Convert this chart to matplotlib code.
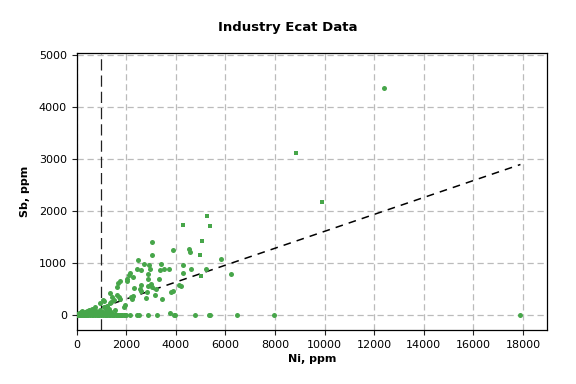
import matplotlib
matplotlib.use("Agg")
import matplotlib.pyplot as plt

# Ni (x) / Sb (y) in ppm
ni_round = [
    12400, 3036, 4528, 4569, 3883, 3036, 5819, 2472, 2714, 2928, 3400, 3345,
    3535, 3710, 2955, 2430, 2590, 4286, 4286, 4610, 5215, 6210, 2164, 2110,
    2030, 2258, 2016, 1667, 1626, 1760, 2875, 2862, 2995, 2888, 3330, 3426,
    2310, 2257, 2580, 2566, 2606, 2820, 2780, 3170, 3183, 3870, 3815, 4125,
    4205, 3036, 2178, 1895, 1962, 2218, 1626, 1694, 1760, 1425, 1492, 1358,
    1398, 1090, 1157, 1358, 1560, 940, 1073, 1210, 1300, 1100, 1250,
    2150, 2445, 2525, 2875, 3251, 3775, 3910, 3960, 4770, 5350, 5390, 6450,
    7955, 17890,
    30, 60, 80, 110, 130, 150, 170, 190, 210, 230, 250, 270, 290, 310, 330,
    350, 370, 390, 410, 430, 450, 470, 490, 510, 530, 550, 570, 590, 610, 630,
    650, 670, 690, 710, 730, 750, 770, 790, 810, 830, 850, 870, 890, 910, 930,
    960, 990, 1020, 1050, 1080, 1110, 1140, 1170, 1200, 1230, 1260, 1290, 1320,
    1350, 1380, 1420, 1460, 1500, 1540, 1580, 1620, 1660, 1700, 1750, 1800,
    1850, 1900, 1950, 2000,
]
sb_round = [
    4371, 1404, 1281, 1217, 1250, 1166, 1089, 1069, 986, 974, 986, 872,
    885, 897, 885, 885, 872, 968, 808, 885, 885, 788, 808, 770,
    692, 744, 660, 628, 551, 654, 795, 705, 596, 570, 705, 314,
    532, 365, 590, 507, 475, 443, 340, 391, 500, 468, 449, 590,
    565, 551, 346, 167, 192, 320, 385, 359, 320, 359, 295, 423,
    263, 276, 167, 231, 103, 230, 294, 170, 120, 150, 90,
    0, 0, 0, 0, 0, 50, 15, 0, 0, 0, 0, 0,
    0, 0,
    0, 20, 5, 40, 0, 10, 60, 25, 0, 80, 15, 35, 0, 50, 10,
    70, 0, 30, 90, 5, 45, 0, 20, 110, 60, 0, 30, 80, 10, 130,
    40, 0, 70, 20, 150, 0, 50, 90, 10, 30, 0, 60, 20, 0, 100,
    40, 0, 20, 60, 0, 30, 0, 80, 10, 0, 40, 0, 20,
    0, 60, 0, 10, 0, 30, 0, 5, 0, 10, 0, 0,
    5, 0, 0, 0,
]
ni_square = [8843, 9891, 5242, 4286, 5375, 5040, 4972, 5000]
sb_square = [3127, 2185, 1915, 1742, 1723, 1435, 1166, 750]

ni_cutoff = 1000
trend_x = [1000, 17900]
trend_y = [150, 2900]

GREEN = "#47a64a"

fig = plt.figure(figsize=(5.76, 3.84), dpi=100)
ax = fig.add_axes([0.133, 0.1406, 0.817, 0.7222])

ax.grid(True, color="#bbbbbb", linestyle=(0, (5, 3)), linewidth=0.9)
ax.set_axisbelow(True)

ax.axvline(ni_cutoff, color="#222222", linestyle=(0, (9, 4)), linewidth=0.9)
ax.plot(trend_x, trend_y, color="black", linestyle=(0, (5, 4)), linewidth=1.1)

ax.plot(ni_round, sb_round, "o", color=GREEN, ms=3.6, mew=0, zorder=3)
ax.plot(ni_square, sb_square, "s", color=GREEN, ms=3.4, mew=0, zorder=3)

ax.set_xlim(0, 18980)
ax.set_ylim(-283, 5050)
ax.set_xticks(range(0, 18001, 2000))
ax.set_yticks(range(0, 5001, 1000))
ax.tick_params(labelsize=8, length=3.5, width=0.8, colors="#222222", labelcolor="black")
for s in ax.spines.values():
    s.set_linewidth(0.9)

ax.set_xlabel("Ni, ppm", fontsize=8, fontweight="bold", labelpad=3)
ax.set_ylabel("Sb, ppm", fontsize=8, fontweight="bold", labelpad=6)
fig.text(0.5, 0.928, "Industry Ecat Data", ha="center", va="center",
         fontsize=9.5, fontweight="bold")

fig.savefig("out.png", dpi=100)
